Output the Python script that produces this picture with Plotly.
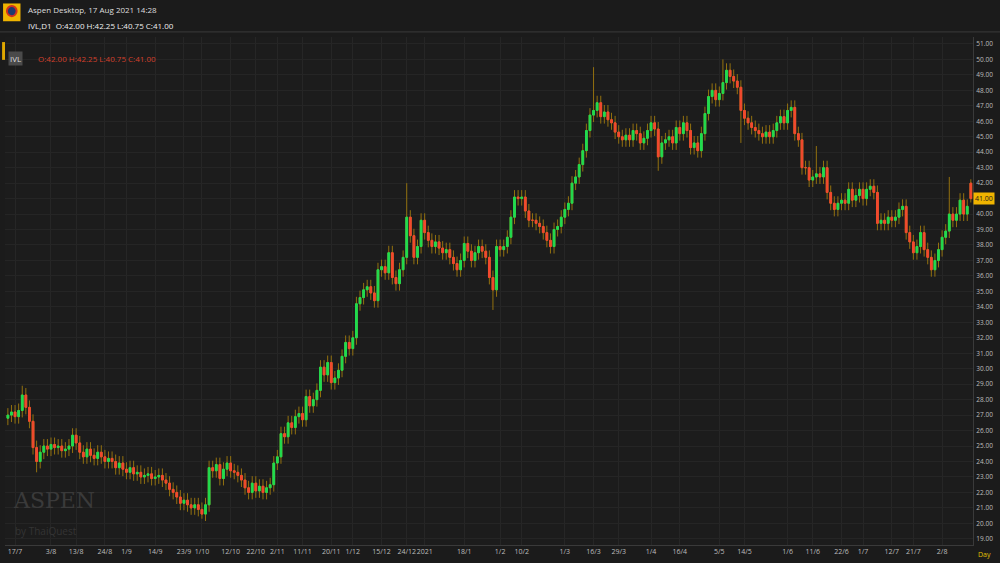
import plotly.graph_objects as go

# daily closes, IVL 14 Jul 2020 - 17 Aug 2021
closes = [
    27.0, 27.2, 26.9, 27.3, 28.3, 27.5, 26.6, 24.9, 24.0, 24.6,
    25.0, 24.8, 25.1, 24.9, 25.0, 24.7, 24.8, 25.0, 25.7, 25.2,
    24.6, 24.3, 24.8, 24.4, 24.2, 24.6, 24.3, 24.0, 24.2, 24.0,
    23.6, 23.9, 23.5, 23.3, 23.6, 23.2, 23.3, 23.0, 23.1, 23.2,
    22.9, 23.0, 23.1, 22.8, 22.6, 22.2, 22.0, 21.7, 21.3, 21.5,
    21.2, 21.0, 21.2, 20.9, 20.6, 21.2, 23.6, 23.4, 23.8, 22.9,
    23.5, 23.9, 23.4, 23.3, 23.1, 22.8, 22.3, 22.0, 22.6, 22.1,
    22.4, 22.0, 22.3, 22.5, 23.9, 24.3, 25.8, 25.6, 26.5, 26.2,
    26.9, 27.1, 26.7, 28.2, 27.6, 28.0, 28.6, 30.1, 29.6, 30.4,
    29.1, 29.4, 29.9, 30.8, 31.7, 31.3, 32.0, 34.2, 34.6, 35.1,
    35.3, 34.9, 34.4, 36.4, 36.6, 36.2, 37.5, 35.9, 35.5, 36.4,
    37.2, 39.8, 38.6, 37.2, 37.9, 39.6, 38.8, 38.3, 37.9, 38.2,
    37.8, 37.5, 37.7, 37.2, 36.8, 36.4, 37.0, 38.1, 37.6, 37.0,
    37.5, 37.9, 37.6, 37.2, 35.9, 35.1, 37.9, 37.7, 37.9, 38.5,
    39.8, 41.1, 41.0, 41.1, 40.2, 39.6, 39.6, 39.4, 39.2, 38.8,
    38.3, 37.9, 39.0, 39.2, 39.8, 40.3, 40.7, 42.0, 42.4, 43.2,
    44.1, 45.4, 46.4, 46.7, 47.2, 46.3, 46.6, 46.1, 45.9, 45.3,
    45.0, 44.8, 45.1, 44.8, 45.4, 45.2, 44.6, 44.9, 45.4, 45.9,
    45.5, 43.7, 44.6, 44.8, 45.0, 44.6, 45.6, 45.2, 45.9, 45.4,
    44.3, 44.6, 44.1, 45.2, 46.5, 47.6, 48.0, 47.4, 47.8, 48.5,
    49.3, 48.9, 48.6, 48.2, 46.7, 46.2, 45.9, 45.6, 45.4, 45.2,
    45.0, 45.3, 45.0, 45.4, 45.9, 46.3, 45.9, 46.7, 46.9, 45.2,
    44.8, 43.0, 43.0, 42.2, 42.4, 42.6, 42.4, 43.0, 41.4, 40.7,
    40.3, 40.7, 40.9, 40.7, 41.6, 40.9, 41.2, 41.6, 41.0, 41.6,
    41.8, 41.4, 39.4, 39.6, 39.4, 39.8, 39.6, 39.8, 40.3, 40.5,
    38.8, 38.2, 37.5, 37.9, 38.8, 37.7, 37.2, 36.4, 37.0, 37.7,
    38.5, 38.9, 40.0, 39.6, 40.0, 40.9, 40.0, 40.5, 41.0,
]
first_open = 26.8
last_open = 42.0
# long wicks seen on the chart: candle index -> high / low
wick_highs = {4: 28.9, 111: 42.0, 163: 49.5, 199: 50.0, 225: 44.4, 262: 42.4, 268: 42.25}
wick_lows = {8: 23.3, 54: 20.3, 135: 33.8, 181: 42.8, 204: 44.6, 268: 40.75}

tick_idx = [2, 12, 19, 27, 33, 41, 49, 54, 62, 69, 75, 82, 90, 96, 104, 111, 116,
            127, 137, 143, 155, 163, 170, 179, 187, 198, 205, 217, 224, 232, 238,
            246, 252, 260]
tick_txt = ['17/7', '3/8', '13/8', '24/8', '1/9', '14/9', '23/9', '1/10', '12/10',
            '22/10', '2/11', '11/11', '20/11', '1/12', '15/12', '24/12', '2021',
            '18/1', '1/2', '10/2', '1/3', '16/3', '29/3', '1/4', '16/4', '5/5',
            '14/5', '1/6', '11/6', '22/6', '1/7', '12/7', '21/7', '2/8']

n = len(closes)
x = list(range(n))
opens = [first_open] + closes[:-1]
opens[-1] = last_open
highs = [wick_highs.get(i, max(o, c) + 0.45) for i, (o, c) in enumerate(zip(opens, closes))]
lows = [wick_lows.get(i, min(o, c) - 0.45) for i, (o, c) in enumerate(zip(opens, closes))]
body_hi = [max(o, c) for o, c in zip(opens, closes)]
body_lo = [min(o, c) for o, c in zip(opens, closes)]

wick = '#93710f'
fig = go.Figure()
fig.add_trace(go.Candlestick(
    x=x, open=opens, high=highs, low=lows, close=closes, whiskerwidth=0,
    increasing={'line': {'color': wick, 'width': 1}, 'fillcolor': wick},
    decreasing={'line': {'color': wick, 'width': 1}, 'fillcolor': wick},
    hoverinfo='skip', showlegend=False))
fig.add_trace(go.Candlestick(
    x=x, open=opens, high=body_hi, low=body_lo, close=closes, whiskerwidth=0,
    increasing={'line': {'color': '#1fdc50', 'width': 1}, 'fillcolor': '#1fdc50'},
    decreasing={'line': {'color': '#f2492f', 'width': 1}, 'fillcolor': '#f2492f'},
    showlegend=False))

fig.update_layout(
    width=1000, height=563,
    paper_bgcolor='#1b1b1b', plot_bgcolor='#1c1c1c',
    margin={'l': 5, 'r': 27, 't': 37, 'b': 18},
    font={'family': 'Open Sans', 'color': '#bdbdbd', 'size': 8},
    xaxis={'range': [-0.8, n - 0.4], 'rangeslider': {'visible': False},
           'tickvals': tick_idx, 'ticktext': tick_txt, 'tickfont': {'size': 7},
           'tickangle': 0, 'automargin': False,
           'showgrid': True, 'gridcolor': '#262626', 'zeroline': False,
           'showline': True, 'linecolor': '#3a3a3a', 'ticks': ''},
    yaxis={'side': 'right', 'range': [18.6, 51.45], 'dtick': 1, 'tickformat': '.2f',
           'tickfont': {'size': 6.5}, 'gridcolor': '#252525', 'zeroline': False,
           'automargin': False, 'ticklabelstandoff': 1,
           'showline': True, 'linecolor': '#3a3a3a'},
)
fig.add_shape(type='line', xref='paper', yref='paper', x0=-0.01, x1=1.03, y0=1.01, y1=1.01,
              line={'color': '#3a3a3a', 'width': 1})
fig.add_shape(type='rect', xref='paper', yref='paper', x0=-0.003, x1=0.0, y0=0.955, y1=0.99,
              line={'width': 0}, fillcolor='#e0a800')
fig.add_shape(type='rect', xref='paper', yref='paper', x0=-0.002, x1=0.016, y0=1.031, y1=1.066,
              line={'width': 0}, fillcolor='#f0b400')
fig.add_shape(type='circle', xref='paper', yref='paper', x0=0.002, x1=0.012, y0=1.041, y1=1.061,
              line={'width': 2, 'color': '#d03020'}, fillcolor='#1e3a70')
fig.add_annotation(x=0.003, y=0.973, xref='paper', yref='paper', text='IVL', showarrow=False,
                   xanchor='left', bgcolor='#4a4a4a', font={'size': 8, 'color': '#dddddd'})
fig.add_annotation(x=0.032, y=0.973, xref='paper', yref='paper', showarrow=False, xanchor='left',
                   text='O:42.00 H:42.25 L:40.75 C:41.00', font={'size': 8, 'color': '#d2402c'})
fig.add_annotation(x=0.022, y=1.068, xref='paper', yref='paper', showarrow=False, xanchor='left',
                   text='Aspen Desktop, 17 Aug 2021 14:28', font={'size': 8, 'color': '#dddddd'})
fig.add_annotation(x=0.022, y=1.038, xref='paper', yref='paper', showarrow=False, xanchor='left',
                   text='IVL,D1  O:42.00 H:42.25 L:40.75 C:41.00', font={'size': 8, 'color': '#eeeeee'})
fig.add_annotation(x=1.0, y=closes[-1], xref='paper', yref='y', showarrow=False, xanchor='left',
                   text='41.00', bgcolor='#f0b400', font={'size': 7, 'color': '#1b1b1b'})
fig.add_annotation(x=1.003, y=-0.005, xref='paper', yref='paper', showarrow=False, xanchor='left',
                   yanchor='top', text='Day', font={'size': 7, 'color': '#e0c000'})
fig.add_annotation(x=0.006, y=0.06, xref='paper', yref='paper', showarrow=False, xanchor='left',
                   text='ASPEN', font={'family': 'DejaVu Serif', 'size': 22, 'color': '#3a3a3a'})
fig.add_annotation(x=0.008, y=0.01, xref='paper', yref='paper', showarrow=False, xanchor='left',
                   text='by ThaiQuest', font={'size': 10, 'color': '#343434'})

fig.write_html("out.html", config={'displayModeBar': False},
               post_script="document.body.style.margin='0';")
